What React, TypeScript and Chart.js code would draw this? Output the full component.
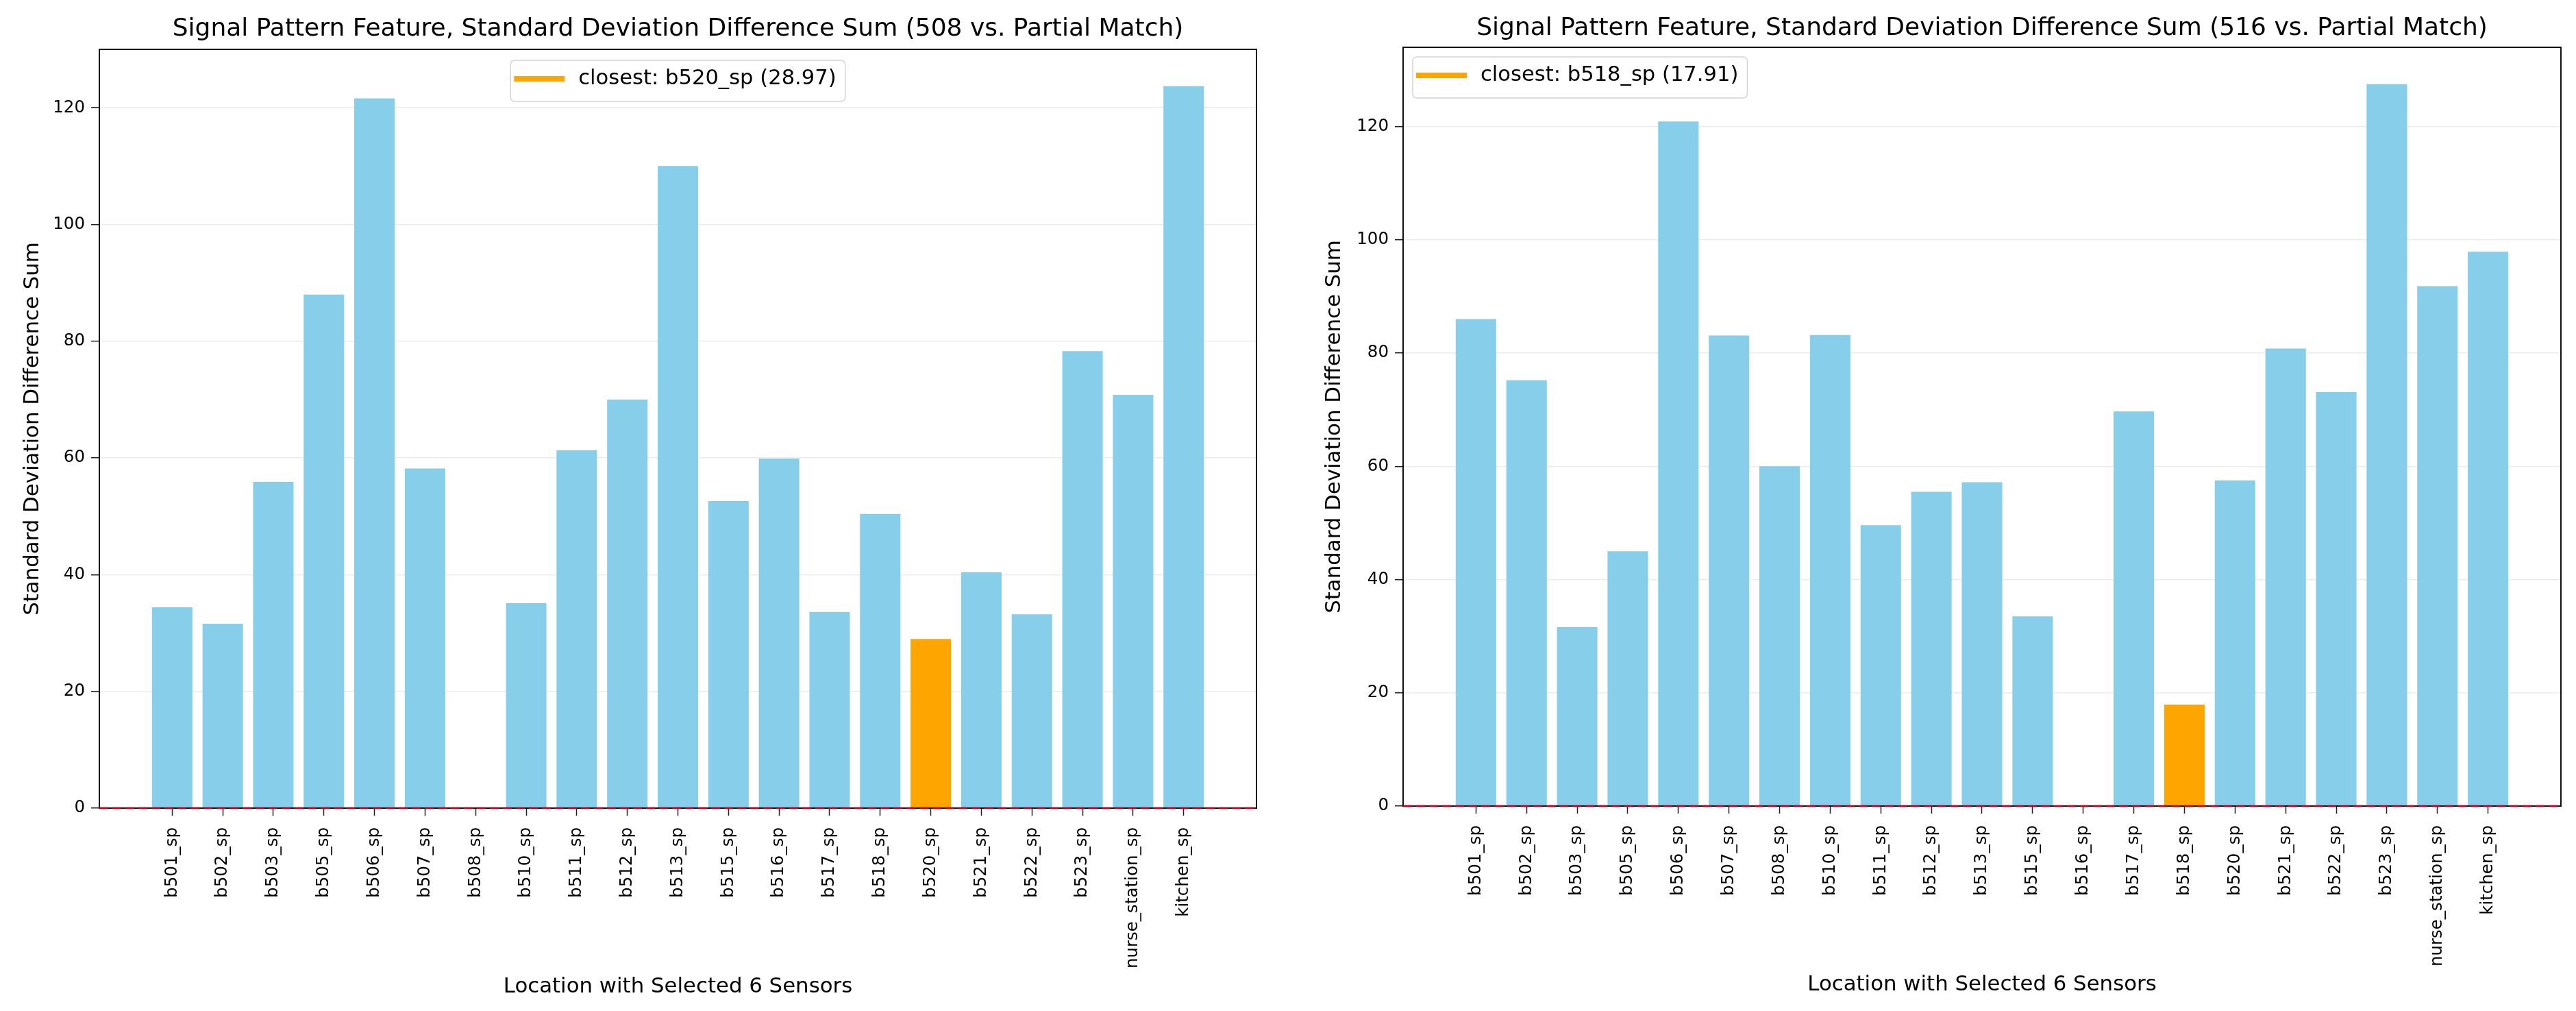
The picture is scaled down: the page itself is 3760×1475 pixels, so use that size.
import React, { useEffect, useRef } from 'react';
import { Chart, registerables } from 'chart.js';

Chart.register(...registerables);

const FONT = "'DejaVu Sans', sans-serif";

// ---------- data ----------
const CATEGORIES = [
  'b501_sp', 'b502_sp', 'b503_sp', 'b505_sp', 'b506_sp', 'b507_sp', 'b508_sp',
  'b510_sp', 'b511_sp', 'b512_sp', 'b513_sp', 'b515_sp', 'b516_sp', 'b517_sp',
  'b518_sp', 'b520_sp', 'b521_sp', 'b522_sp', 'b523_sp', 'nurse_station_sp', 'kitchen_sp',
];

// 508 vs. partial match (b508 itself has no bar)
const VALUES_508: (number | null)[] = [
  34.4, 31.6, 55.9, 88.0, 121.6, 58.2, null,
  35.1, 61.3, 70.0, 110.0, 52.6, 59.9, 33.6,
  50.4, 28.97, 40.4, 33.2, 78.3, 70.8, 123.7,
];

// 516 vs. partial match (b516 itself has no bar)
const VALUES_516: (number | null)[] = [
  86.0, 75.2, 31.6, 45.0, 120.9, 83.1, 60.0,
  83.2, 49.6, 55.5, 57.2, 33.5, null, 69.7,
  17.91, 57.5, 80.8, 73.1, 127.5, 91.8, 97.9,
];

const CLOSEST_508 = 'b520_sp';
const CLOSEST_SCORE_508 = 28.97;
const CLOSEST_516 = 'b518_sp';
const CLOSEST_SCORE_516 = 17.91;

const Y_TICKS = [0, 20, 40, 60, 80, 100, 120];
const Y_MAX_508 = 130;
const Y_MAX_516 = 134;
const X_MIN = -1.44;
const X_MAX = 21.44;

const TITLE_508 = 'Signal Pattern Feature, Standard Deviation Difference Sum (508 vs. Partial Match)';
const TITLE_516 = 'Signal Pattern Feature, Standard Deviation Difference Sum (516 vs. Partial Match)';
const X_TITLE = 'Location with Selected 6 Sensors';
const Y_TITLE = 'Standard Deviation Difference Sum';

const SKY = '#87CEEB';
const ORANGE = '#FFA500';

// ---------- decorations: spines, zero line, legend ----------
const decorPlugin = {
  id: 'decor',
  afterDatasetsDraw(chart: any, _args: any, opts: any) {
    const { ctx, chartArea: a, scales } = chart;
    ctx.save();
    // frame
    ctx.strokeStyle = '#111';
    ctx.lineWidth = 2;
    ctx.strokeRect(a.left, a.top, a.right - a.left, a.bottom - a.top);
    // dashed red zero line
    const y0 = scales.y.getPixelForValue(opts.zeroValue);
    ctx.beginPath();
    ctx.setLineDash([13, 6]);
    ctx.strokeStyle = 'rgba(230,0,40,0.75)';
    ctx.lineWidth = 3;
    ctx.moveTo(a.left, y0);
    ctx.lineTo(a.right, y0);
    ctx.stroke();
    ctx.setLineDash([]);
    // legend
    ctx.font = `30.6px ${FONT}`;
    const tw = ctx.measureText(opts.text).width;
    const padL = 5, handle = 74, gap = 20, padR = 13;
    const w = padL + handle + gap + tw + padR;
    const h = 60;
    const x = opts.align === 'center' ? (a.left + a.right) / 2 - w / 2 : a.left + opts.offsetX;
    const y = a.top + opts.offsetY;
    ctx.beginPath();
    (ctx as any).roundRect(x, y, w, h, 6);
    ctx.fillStyle = 'rgba(255,255,255,0.85)';
    ctx.fill();
    ctx.strokeStyle = '#d4d4d4';
    ctx.lineWidth = 1.5;
    ctx.stroke();
    const cy = y + h / 2 - 3;
    ctx.beginPath();
    ctx.strokeStyle = ORANGE;
    ctx.lineWidth = 8;
    ctx.lineCap = 'butt';
    ctx.moveTo(x + padL, cy);
    ctx.lineTo(x + padL + handle, cy);
    ctx.stroke();
    ctx.fillStyle = '#000';
    ctx.textBaseline = 'middle';
    ctx.textAlign = 'left';
    ctx.fillText(opts.text, x + padL + handle + gap, cy);
    ctx.restore();
  },
};

type Layout = {
  canvasLeft: number;
  padRight: number;
  yAxisWidth: number;
  yTitlePad: number;
  xAxisHeight: number;
  xTitlePad: number;
  titlePadTop: number;
  titlePadBottom: number;
  legendAlign: 'center' | 'left';
  legendOffsetX: number;
  legendOffsetY: number;
};

function Panel(props: {
  values: (number | null)[];
  closest: string;
  score: number;
  title: string;
  yMax: number;
  layout: Layout;
}) {
  const ref = useRef<HTMLCanvasElement>(null);
  const { values, closest, score, title, yMax, layout } = props;

  useEffect(() => {
    const closestIdx = CATEGORIES.indexOf(closest);
    const chart = new Chart(ref.current as HTMLCanvasElement, {
      type: 'bar',
      data: {
        datasets: [
          {
            label: 'Standard Deviation Difference Sum',
            data: values.map((v, i) => ({ x: i, y: v })) as any,
            backgroundColor: values.map((_, i) => (i === closestIdx ? ORANGE : SKY)),
            borderWidth: 0,
            categoryPercentage: 1,
            barPercentage: 0.8,
          },
        ],
      },
      options: {
        animation: false,
        responsive: false,
        devicePixelRatio: 1,
        layout: { padding: { left: 0, right: layout.padRight, top: 0, bottom: 0 } },
        plugins: {
          legend: { display: false },
          tooltip: { enabled: false },
          title: {
            display: true,
            text: title,
            fullSize: false,
            color: '#000',
            font: { family: FONT, size: 36, weight: 'normal' },
            padding: { top: layout.titlePadTop, bottom: layout.titlePadBottom },
          },
          decor: {
            text: `closest: ${closest} (${score.toFixed(2)})`,
            align: layout.legendAlign,
            offsetX: layout.legendOffsetX,
            offsetY: layout.legendOffsetY,
            zeroValue: 0,
          },
        } as any,
        scales: {
          x: {
            type: 'linear',
            min: X_MIN,
            max: X_MAX,
            offset: false,
            afterBuildTicks: (s: any) => {
              s.ticks = CATEGORIES.map((_, i) => ({ value: i }));
            },
            afterFit: (s: any) => {
              s.height = layout.xAxisHeight;
            },
            grid: {
              offset: false,
              drawOnChartArea: false,
              drawTicks: true,
              tickLength: 11,
              tickColor: '#222',
              tickWidth: 1.5,
            },
            border: { display: false },
            ticks: {
              autoSkip: false,
              minRotation: 90,
              maxRotation: 90,
              padding: 17,
              color: '#000',
              font: { family: FONT, size: 24.5 },
              callback: (v: any) => CATEGORIES[v as number] ?? '',
            },
            title: {
              display: true,
              text: X_TITLE,
              color: '#000',
              font: { family: FONT, size: 30.8 },
              padding: { top: 0, bottom: layout.xTitlePad },
            },
          } as any,
          y: {
            type: 'linear',
            min: 0,
            max: yMax,
            afterBuildTicks: (s: any) => {
              s.ticks = Y_TICKS.map((v) => ({ value: v }));
            },
            afterFit: (s: any) => {
              s.width = layout.yAxisWidth;
            },
            grid: {
              color: 'rgba(0,0,0,0.075)',
              lineWidth: 1.5,
              drawTicks: true,
              tickLength: 12,
              tickColor: '#222',
              tickWidth: 1.5,
            },
            border: { display: false },
            ticks: {
              padding: 9,
              color: '#000',
              font: { family: FONT, size: 24.5 },
            },
            title: {
              display: true,
              text: Y_TITLE,
              color: '#000',
              font: { family: FONT, size: 30.8 },
              padding: { top: layout.yTitlePad, bottom: 0 },
            },
          },
        },
      },
      plugins: [decorPlugin as any],
    });
    return () => chart.destroy();
  }, []);

  return (
    <canvas
      ref={ref}
      width={1880}
      height={1475}
      style={{ position: 'absolute', left: layout.canvasLeft, top: 0, width: 1880, height: 1475 }}
    />
  );
}

const LAYOUT_508: Layout = {
  canvasLeft: 0,
  padRight: 46,
  yAxisWidth: 145,
  yTitlePad: 30,
  xAxisHeight: 296,
  xTitlePad: 16.5,
  titlePadTop: 21.4,
  titlePadBottom: 7.4,
  legendAlign: 'center',
  legendOffsetX: 0,
  legendOffsetY: 16,
};

const LAYOUT_516: Layout = {
  canvasLeft: 1880,
  padRight: 22,
  yAxisWidth: 168,
  yTitlePad: 50,
  xAxisHeight: 299,
  xTitlePad: 19.5,
  titlePadTop: 20.4,
  titlePadBottom: 5.4,
  legendAlign: 'left',
  legendOffsetX: 14,
  legendOffsetY: 14,
};

export default function App() {
  useEffect(() => {
    document.body.style.margin = '0';
    document.body.style.background = '#fff';
  }, []);
  return (
    <div style={{ position: 'relative', width: 3760, height: 1475, background: '#fff', overflow: 'hidden' }}>
      <Panel values={VALUES_508} closest={CLOSEST_508} score={CLOSEST_SCORE_508} title={TITLE_508} yMax={Y_MAX_508} layout={LAYOUT_508} />
      <Panel values={VALUES_516} closest={CLOSEST_516} score={CLOSEST_SCORE_516} title={TITLE_516} yMax={Y_MAX_516} layout={LAYOUT_516} />
    </div>
  );
}
